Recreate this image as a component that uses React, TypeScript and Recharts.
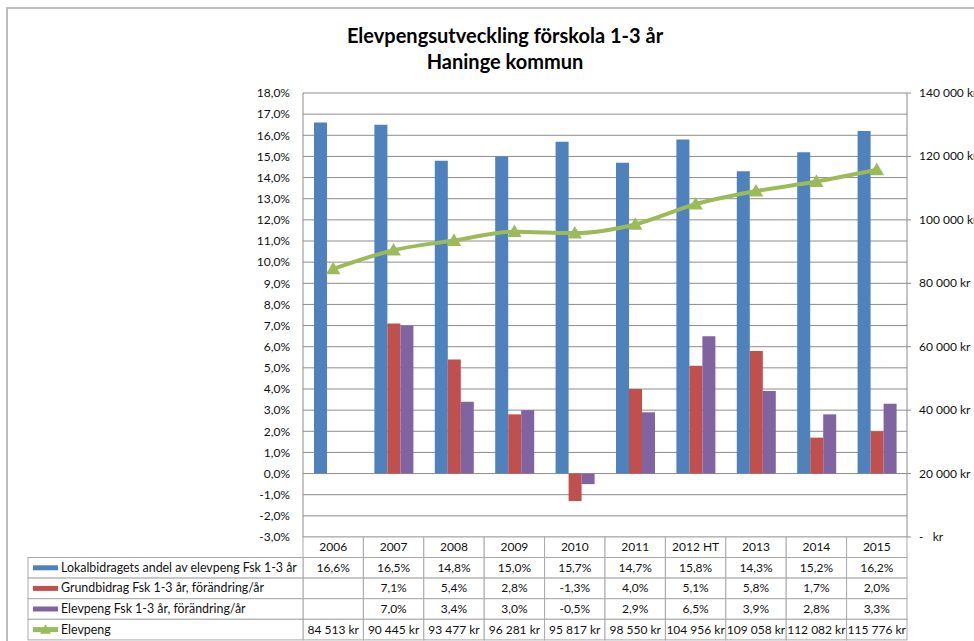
import React from "react";
import { ComposedChart, Bar, Line, XAxis, YAxis, CartesianGrid } from "recharts";

const years = ["2006", "2007", "2008", "2009", "2010", "2011", "2012 HT", "2013", "2014", "2015"];
const lokalAndel = [16.6, 16.5, 14.8, 15.0, 15.7, 14.7, 15.8, 14.3, 15.2, 16.2];
const grundForandring = [null, 7.1, 5.4, 2.8, -1.3, 4.0, 5.1, 5.8, 1.7, 2.0];
const elevForandring = [null, 7.0, 3.4, 3.0, -0.5, 2.9, 6.5, 3.9, 2.8, 3.3];
const elevpeng = [84513, 90445, 93477, 96281, 95817, 98550, 104956, 109058, 112082, 115776];

const leftTicks = [-3, -2, -1, 0, 1, 2, 3, 4, 5, 6, 7, 8, 9, 10, 11, 12, 13, 14, 15, 16, 17, 18];
const rightTicks = [0, 20000, 40000, 60000, 80000, 100000, 120000, 140000];

const data = years.map((year, i) => ({
  year,
  lokal: lokalAndel[i],
  grund: grundForandring[i],
  elev: elevForandring[i],
  elevpeng: elevpeng[i],
}));

const BLUE = "#4f81bd";
const RED = "#c0504d";
const PURPLE = "#8064a2";
const GREEN = "#9bbb59";
const FONT = "Lato, 'Open Sans', sans-serif";

const PLOT_LEFT = 303;
const PLOT_RIGHT = 907;
const BAND = (PLOT_RIGHT - PLOT_LEFT) / years.length;
const HEAD_H = 20.5;
const ROW_H = 20.6;
const LEGEND_LEFT = 28;
const BORDER = "#a9a9a9";

const pct = (v: number | null) => (v == null ? "" : v.toFixed(1).replace(".", ",") + "%");
const kr = (v: number) => v.toString().replace(/\B(?=(\d{3})+(?!\d))/g, " ") + " kr";

const rows = [
  { name: "Lokalbidragets andel av elevpeng Fsk 1-3 år", color: BLUE, values: lokalAndel.map(pct) },
  { name: "Grundbidrag Fsk 1-3 år, förändring/år", color: RED, values: grundForandring.map(pct) },
  { name: "Elevpeng Fsk 1-3 år, förändring/år", color: PURPLE, values: elevForandring.map(pct) },
  { name: "Elevpeng", color: GREEN, values: elevpeng.map(kr) },
];

const triangle = (cx: number, cy: number, s: number) =>
  `M${cx},${cy - s * 0.6} L${cx + s * 0.6},${cy + s * 0.45} L${cx - s * 0.6},${cy + s * 0.45} Z`;

// x axis tick draws one column of the data table (plus the legend column for the first one)
const TableTick = (props: any) => {
  const { x, y, index } = props;
  const left = x - BAND / 2;
  return (
    <g style={{ fontFamily: FONT, fontSize: 12 }}>
      <rect x={left} y={y} width={BAND} height={HEAD_H} fill="#fff" stroke={BORDER} />
      <text x={x} y={y + HEAD_H / 2 + 4} textAnchor="middle" fill="#111">
        {years[index]}
      </text>
      {rows.map((r, ri) => {
        const top = y + HEAD_H + ri * ROW_H;
        return (
          <g key={ri}>
            <rect x={left} y={top} width={BAND} height={ROW_H} fill="#fff" stroke={BORDER} />
            <text x={x} y={top + ROW_H / 2 + 4} textAnchor="middle" fill="#111">
              {r.values[index]}
            </text>
            {index === 0 && (
              <g>
                <rect x={LEGEND_LEFT} y={top} width={left - LEGEND_LEFT} height={ROW_H} fill="#fff" stroke={BORDER} />
                <rect x={LEGEND_LEFT + 5} y={top + ROW_H / 2 - 2.5} width={25} height={5} fill={r.color} />
                {ri === 3 && <path d={triangle(LEGEND_LEFT + 17.5, top + ROW_H / 2, 9)} fill={r.color} />}
                <text x={LEGEND_LEFT + 33} y={top + ROW_H / 2 + 4} fill="#111" style={{ fontSize: 12.4 }}>
                  {r.name}
                </text>
              </g>
            )}
          </g>
        );
      })}
    </g>
  );
};

const RightTick = (props: any) => {
  const { x, y, payload } = props;
  const v = payload.value;
  return (
    <text
      x={x}
      y={y + 4}
      textAnchor="start"
      fill="#111"
      style={{ fontFamily: FONT, fontSize: 12, whiteSpace: "pre" }}
    >
      {v === 0 ? "-\u00a0\u00a0\u00a0kr" : kr(v)}
    </text>
  );
};

const TriangleDot = (props: any) => {
  const { cx, cy, index } = props;
  if (cx == null || cy == null) return <g key={index} />;
  return <path key={index} d={triangle(cx, cy, 12)} fill={GREEN} />;
};

export default function App() {
  return (
    <div style={{ position: "absolute", left: 0, top: 0, width: 974, height: 641, background: "#fff", overflow: "hidden" }}>
      <div
        style={{
          position: "absolute",
          left: 6,
          top: 7,
          width: 980,
          height: 700,
          borderTop: "2px solid #bdbdbd",
          borderLeft: "2px solid #bdbdbd",
        }}
      />
      <div
        style={{
          position: "absolute",
          left: 205,
          top: 22,
          width: 600,
          textAlign: "center",
          fontFamily: FONT,
          fontWeight: 700,
          fontSize: 20,
          lineHeight: "26px",
          color: "#000",
        }}
      >
        <div>Elevpengsutveckling förskola 1-3 år</div>
        <div>Haninge kommun</div>
      </div>
      <div style={{ position: "absolute", left: 0, top: 0 }}>
        <ComposedChart
          width={974}
          height={641}
          data={data}
          margin={{ top: 93, right: 0, bottom: 0, left: 0 }}
          barGap={0}
          barSize={13}
        >
          <CartesianGrid yAxisId="left" vertical={false} stroke="#8c8c8c" />
          <XAxis
            dataKey="year"
            height={104}
            interval={0}
            axisLine={false}
            tickLine={false}
            tickSize={0}
            tickMargin={0}
            tick={<TableTick />}
          />
          <YAxis
            yAxisId="left"
            width={PLOT_LEFT}
            domain={[-3, 18]}
            ticks={leftTicks}
            interval={0}
            tickFormatter={(v: number) => pct(v)}
            axisLine={{ stroke: "#8c8c8c" }}
            tickLine={false}
            tickMargin={7}
            tick={{ fill: "#111", fontSize: 12, fontFamily: FONT }}
          />
          <YAxis
            yAxisId="right"
            orientation="right"
            width={974 - PLOT_RIGHT}
            domain={[0, 140000]}
            ticks={rightTicks}
            interval={0}
            axisLine={{ stroke: "#8c8c8c" }}
            tickLine={{ stroke: "#8c8c8c" }}
            tickSize={4}
            tickMargin={8}
            tick={<RightTick />}
          />
          <Bar yAxisId="left" dataKey="lokal" fill={BLUE} isAnimationActive={false} />
          <Bar yAxisId="left" dataKey="grund" fill={RED} isAnimationActive={false} />
          <Bar yAxisId="left" dataKey="elev" fill={PURPLE} isAnimationActive={false} />
          <Line
            yAxisId="right"
            type="monotone"
            dataKey="elevpeng"
            stroke={GREEN}
            strokeWidth={4}
            dot={TriangleDot}
            activeDot={false}
            isAnimationActive={false}
          />
        </ComposedChart>
      </div>
    </div>
  );
}
